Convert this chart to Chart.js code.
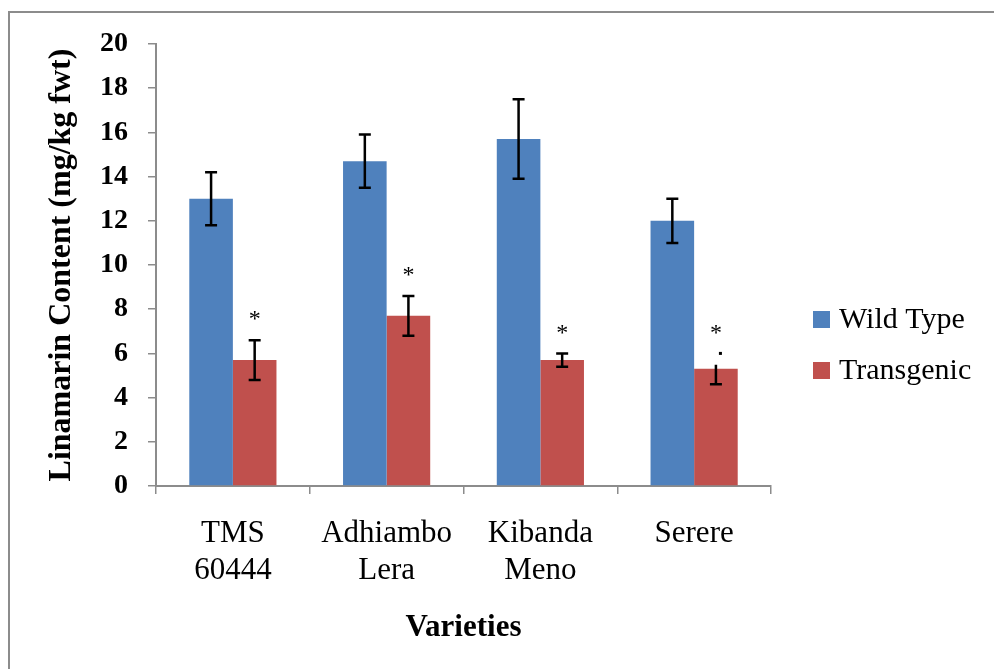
<!DOCTYPE html>
<html>
<head>
<meta charset="utf-8">
<script src="https://cdn.jsdelivr.net/npm/chart.js@4/dist/chart.umd.min.js"></script>
<style>
    html, body { margin: 0; padding: 0; background: #fff; overflow: hidden; }
    #frame {
        position: absolute; left: 8px; top: 11px; width: 2000px; height: 2000px;
        border-left: 2px solid #8c8c8c; border-top: 2px solid #8c8c8c;
    }
    #wrap { position: absolute; left: 0; top: 0; width: 994px; height: 669px; }
</style>
</head>
<body>
<div id="frame"></div>
<div id="wrap"><canvas id="chart" width="994" height="669"></canvas></div>
<script>
const categories = [["TMS", "60444"], ["Adhiambo", "Lera"], ["Kibanda", "Meno"], ["Serere"]];
const wildType = [13.0, 14.7, 15.7, 12.0];
const wildTypeErr = [1.2, 1.2, 1.8, 1.0];
const transgenic = [5.7, 7.7, 5.7, 5.3];
const transgenicErr = [0.9, 0.9, 0.3, 0.7];
// upper whisker of the last transgenic bar is not drawn in the original, only a dot
const transgenicUpperShown = [true, true, true, false];
const significance = ["*", "*", "*", "*"];

const serif = "'Liberation Serif', 'Times New Roman', serif";
const blue = "#4f81bd";
const red = "#c0504d";

const errorBars = {
    id: "errorBars",
    afterDatasetsDraw(chart) {
        const { ctx, scales: { y } } = chart;
        ctx.save();
        ctx.strokeStyle = "#000";
        ctx.fillStyle = "#000";
        ctx.lineWidth = 2.5;
        chart.data.datasets.forEach((ds, i) => {
            const meta = chart.getDatasetMeta(i);
            meta.data.forEach((bar, j) => {
                const v = ds.data[j];
                const err = ds.errors[j];
                const showUp = ds.upperShown ? ds.upperShown[j] : true;
                const yHi = y.getPixelForValue(v + err);
                const yLo = y.getPixelForValue(v - err);
                const yMid = y.getPixelForValue(v);
                const x = bar.x;
                ctx.beginPath();
                ctx.moveTo(x, showUp ? yHi : yMid - 4);
                ctx.lineTo(x, yLo);
                ctx.moveTo(x - 6, yLo);
                ctx.lineTo(x + 6, yLo);
                if (showUp) {
                    ctx.moveTo(x - 6, yHi);
                    ctx.lineTo(x + 6, yHi);
                }
                ctx.stroke();
                if (!showUp) ctx.fillRect(x + 3, yHi - 1.5, 3, 3);
                if (ds.marks && ds.marks[j]) {
                    ctx.font = "24px " + serif;
                    ctx.textAlign = "center";
                    ctx.textBaseline = "middle";
                    ctx.fillText(ds.marks[j], x, yHi - 20);
                }
            });
        });
        ctx.restore();
    }
};

const sideLegend = {
    id: "sideLegend",
    afterDraw(chart) {
        const { ctx, chartArea } = chart;
        ctx.save();
        ctx.font = "30px " + serif;
        ctx.textBaseline = "middle";
        ctx.textAlign = "left";
        chart.data.datasets.forEach((ds, i) => {
            const cy = 319 + i * 51;
            ctx.fillStyle = ds.backgroundColor;
            ctx.fillRect(chartArea.right + 42, cy - 8, 17, 17);
            ctx.fillStyle = "#000";
            ctx.fillText(ds.label, chartArea.right + 68, cy + 1);
        });
        ctx.restore();
    }
};

new Chart(document.getElementById("chart"), {
    type: "bar",
    data: {
        labels: categories,
        datasets: [{
            label: "Wild Type",
            data: wildType,
            errors: wildTypeErr,
            backgroundColor: blue
        }, {
            label: "Transgenic",
            data: transgenic,
            errors: transgenicErr,
            upperShown: transgenicUpperShown,
            marks: significance,
            backgroundColor: red
        }]
    },
    options: {
        responsive: false,
        animation: false,
        events: [],
        layout: { padding: { top: 44, right: 223, bottom: 0, left: 0 } },
        datasets: { bar: { barPercentage: 1, categoryPercentage: 0.567, borderWidth: 0 } },
        plugins: {
            legend: { display: false },
            tooltip: { enabled: false }
        },
        scales: {
            x: {
                afterFit(scale) { scale.height = 183; },
                grid: { drawOnChartArea: false, color: "#8c8c8c", lineWidth: 1.5, tickLength: 8 },
                border: { color: "#8c8c8c", width: 2 },
                ticks: { color: "#000", padding: 21, font: { family: serif, size: 31 } },
                title: {
                    display: true, text: "Varieties", color: "#000",
                    padding: { top: 0, bottom: 22 },
                    font: { family: serif, size: 31, weight: "bold" }
                }
            },
            y: {
                min: 0, max: 20,
                afterFit(scale) { scale.width = 156; },
                grid: { drawOnChartArea: false, color: "#8c8c8c", lineWidth: 1.5, tickLength: 8 },
                border: { color: "#8c8c8c", width: 2 },
                ticks: { stepSize: 2, color: "#000", padding: 20, font: { family: serif, size: 28, weight: "bold" } },
                title: {
                    display: true, text: "Linamarin Content (mg/kg fwt)", color: "#000",
                    padding: { top: 43, bottom: 0 },
                    font: { family: serif, size: 32, weight: "bold" }
                }
            }
        }
    },
    plugins: [errorBars, sideLegend]
});
</script>
</body>
</html>
